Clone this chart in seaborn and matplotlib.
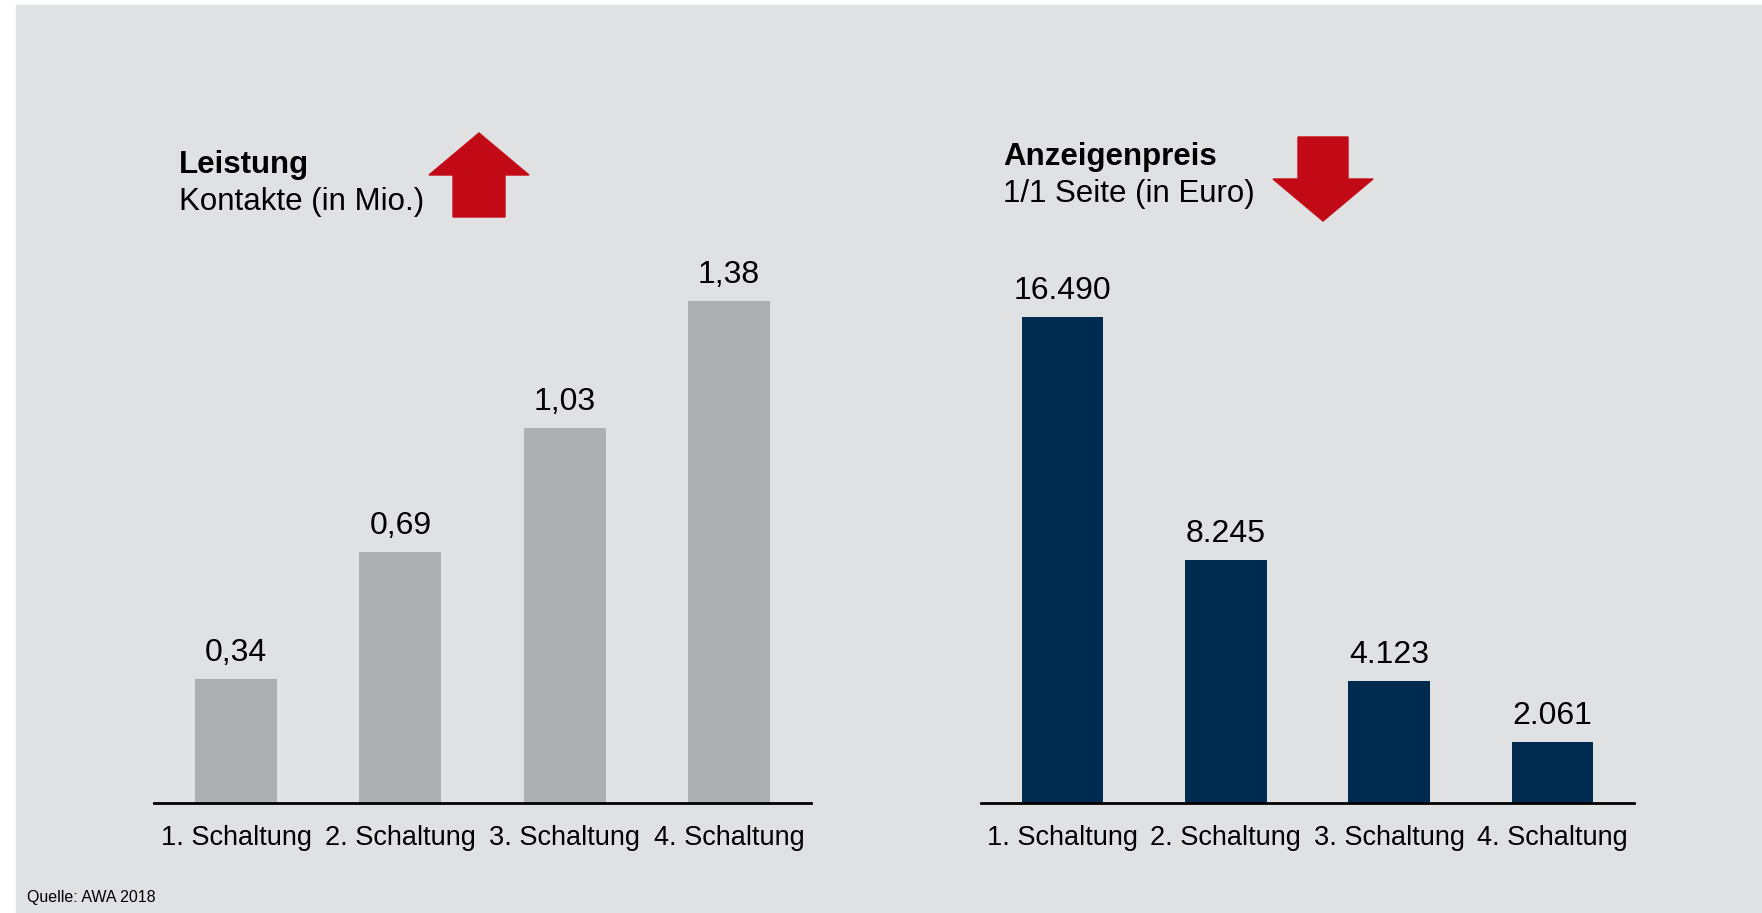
import pandas as pd
import matplotlib.pyplot as plt
import seaborn as sns
from matplotlib.patches import Polygon, Rectangle

# Daten
schaltungen = ["1. Schaltung", "2. Schaltung", "3. Schaltung", "4. Schaltung"]
kontakte = [0.34, 0.69, 1.03, 1.38]          # Leistung, Kontakte in Mio.
preise = [16490, 8245, 4123, 2061]           # Anzeigenpreis 1/1 Seite in Euro

bg = "#E0E1E3"
grau = "#AEAFB2"
blau = "#002B51"
rot = "#C20A17"

sns.set_theme(style="white")
plt.rcParams['font.family'] = ['Liberation Sans', 'DejaVu Sans']
plt.rcParams['text.color'] = 'black'

W, H = 1762, 913
fig = plt.figure(figsize=(W / 100, H / 100), dpi=100)
fig.patch.set_facecolor("white")

def px(x, y):
    # Pixel von oben links -> Figure-Koordinaten
    return (x / W, 1 - y / H)

# grauer Hintergrund mit schmalem weissen Rand links/oben
fig.patches.append(Rectangle(px(16, H), (W - 16) / W, (H - 5) / H,
                             transform=fig.transFigure, color=bg, zorder=-10))

df1 = pd.DataFrame({"Schaltung": schaltungen, "Wert": kontakte})
df2 = pd.DataFrame({"Schaltung": schaltungen, "Wert": preise})

ax1 = fig.add_axes([154 / W, 1 - 803 / H, (811 - 154) / W, 703 / H])
ax2 = fig.add_axes([981 / W, 1 - 803 / H, (1634 - 981) / W, 703 / H])

sns.barplot(data=df1, x="Schaltung", y="Wert", color=grau, width=0.5,
            saturation=1, linewidth=0, ax=ax1)
sns.barplot(data=df2, x="Schaltung", y="Wert", color=blau, width=0.5,
            saturation=1, linewidth=0, ax=ax2)

ax1.bar_label(ax1.containers[0],
              labels=[f"{v:.2f}".replace(".", ",") for v in kontakte],
              padding=8, fontsize=23, color="black")
ax2.bar_label(ax2.containers[0],
              labels=[f"{v:,}".replace(",", ".") for v in preise],
              padding=8, fontsize=23, color="black")

ax1.set_ylim(0, 1.9325)
ax2.set_ylim(0, 23850)

for ax in (ax1, ax2):
    ax.set_facecolor("none")
    ax.set_xlim(-0.5, 3.5)
    ax.set_xlabel("")
    ax.set_ylabel("")
    ax.set_yticks([])
    for s in ("top", "right", "left"):
        ax.spines[s].set_visible(False)
    ax.spines["bottom"].set_color("black")
    ax.spines["bottom"].set_linewidth(2)
    ax.tick_params(axis="x", length=0, pad=16, labelsize=19.5, labelcolor="black")

# Ueberschriften
fig.text(*px(179, 173), "Leistung", fontsize=22.5, fontweight="bold", va="baseline")
fig.text(*px(179, 210), "Kontakte (in Mio.)", fontsize=22.5, va="baseline")
fig.text(*px(1003, 165), "Anzeigenpreis", fontsize=22.5, fontweight="bold", va="baseline")
fig.text(*px(1003, 202), "1/1 Seite (in Euro)", fontsize=22.5, va="baseline")

# Pfeile
hoch = [(479, 133), (529, 175), (505, 175), (505, 217), (453, 217), (453, 175), (429, 175)]
runter = [(1298, 137), (1348, 137), (1348, 179), (1373, 179), (1323, 221), (1273, 179), (1298, 179)]
for pts in (hoch, runter):
    fig.patches.append(Polygon([px(x, y) for x, y in pts], closed=True,
                               transform=fig.transFigure, color=rot, zorder=1))

fig.text(*px(27, 902), "Quelle: AWA 2018", fontsize=11.5, va="baseline")

fig.savefig("out.png", dpi=100, facecolor=fig.get_facecolor())
